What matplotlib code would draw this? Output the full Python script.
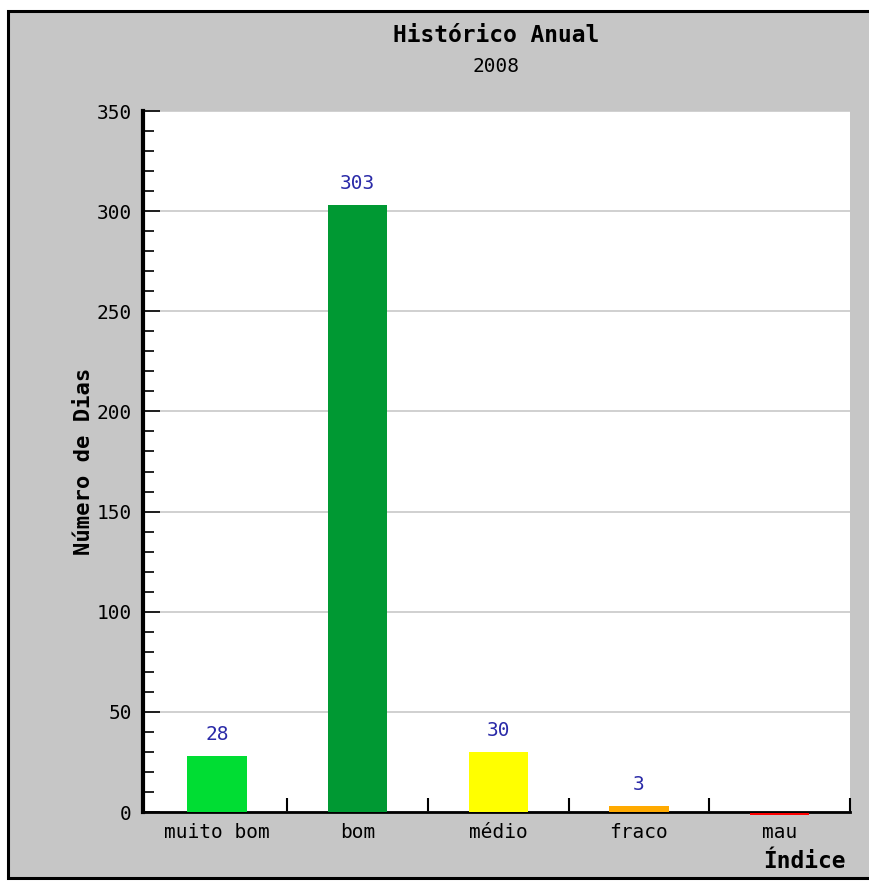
import numpy as np
import matplotlib.pyplot as plt
from matplotlib.patches import Rectangle
from matplotlib.ticker import MultipleLocator

categorias = ["muito bom", "bom", "médio", "fraco", "mau"]
dias = [28, 303, 30, 3, 0]
cores = ["#00dd33", "#009933", "#ffff00", "#ffaa00", "#ff0000"]

W, H = 870, 881
MONO = "DejaVu Sans Mono"
fig = plt.figure(figsize=(W / 100, H / 100), dpi=100, facecolor="white")

# fundo cinzento com moldura preta
fig.patches.append(Rectangle((8 / W, 3 / H), 880 / W, 867 / H, transform=fig.transFigure,
                             facecolor="#c6c6c6", edgecolor="black", linewidth=2.2,
                             zorder=-10))

ax = fig.add_axes([143 / W, 69 / H, 707 / W, 701 / H])
ax.set_zorder(1)
ax.set_facecolor("white")

x = np.arange(len(categorias))
ax.bar(x, dias, width=0.42, color=cores, zorder=3)
# barra com zero dias fica como linha vermelha por baixo do eixo
for xi, v, c in zip(x, dias, cores):
    if v == 0:
        ax.bar(xi, 1.0, bottom=-1.6, width=0.42, color=c, zorder=4, clip_on=False)

for xi, v in zip(x, dias):
    if v > 0:
        ax.text(xi, v + 6, str(v), ha="center", va="bottom", color="#2a2aa8",
                family=MONO, fontsize=14)

ax.set_xlim(-0.526, 4.5)
ax.set_ylim(0, 350)

ax.yaxis.set_major_locator(MultipleLocator(50))
ax.yaxis.set_minor_locator(MultipleLocator(10))
ax.grid(axis="y", which="major", color="#c8c8c8", linewidth=1.2, zorder=1)

ax.tick_params(axis="y", which="major", direction="in", length=12, width=1.2,
               labelsize=14, pad=8)
ax.tick_params(axis="y", which="minor", direction="in", length=8, width=1.2)
for lab in ax.get_yticklabels():
    lab.set_family(MONO)

ax.set_xticks(x)
ax.set_xticklabels(categorias, family=MONO, fontsize=14)
ax.tick_params(axis="x", which="major", length=0, pad=8)
ax.set_xticks(x + 0.5, minor=True)
ax.tick_params(axis="x", which="minor", direction="in", length=10, width=1.5)

for s in ["top", "right"]:
    ax.spines[s].set_visible(False)
ax.spines["left"].set_linewidth(3)
ax.spines["bottom"].set_linewidth(2)

ax.set_ylabel("Número de Dias", family=MONO, fontweight="bold",
              fontsize=16, labelpad=2)

fig.text(496 / W, 1 - 36 / H, "Histórico Anual", ha="center", va="center",
         family=MONO, fontweight="bold", fontsize=16.5)
fig.text(496 / W, 1 - 67 / H, "2008", ha="center", va="center",
         family=MONO, fontsize=14)
fig.text(846 / W, 1 - 862 / H, "Índice", ha="right", va="center",
         family=MONO, fontweight="bold", fontsize=16.5)

fig.savefig("out.png", dpi=100, facecolor=fig.get_facecolor())
